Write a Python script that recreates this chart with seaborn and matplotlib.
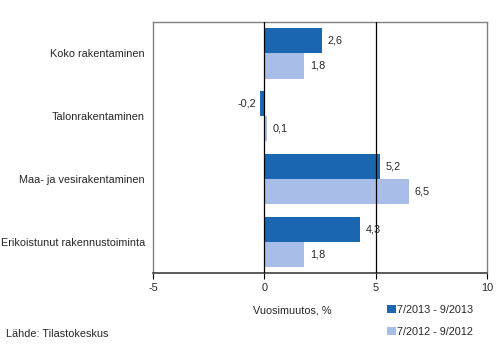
import pandas as pd
import numpy as np
import matplotlib.pyplot as plt
import seaborn as sns

categories = ['Koko rakentaminen', 'Talonrakentaminen', 'Maa- ja vesirakentaminen', 'Erikoistunut rakennustoiminta']
series = ['7/2013 - 9/2013', '7/2012 - 9/2012']
vals_2013 = [2.6, -0.2, 5.2, 4.3]
vals_2012 = [1.8, 0.1, 6.5, 1.8]
colors = ['#1b66b0', '#a8bee9']

df = pd.DataFrame({
    'cat': categories * 2,
    'period': [series[0]] * 4 + [series[1]] * 4,
    'val': vals_2013 + vals_2012,
})

sns.set_style('white')
plt.rcParams['font.family'] = ['Liberation Sans', 'DejaVu Sans']
fs = 7.8

fig = plt.figure(figsize=(5.02, 3.56), dpi=100)
ax = fig.add_axes([0.305, 0.233, 0.665, 0.705])

sns.barplot(data=df, y='cat', x='val', hue='period', order=categories, hue_order=series,
            palette=colors, orient='h', width=0.8, saturation=1, linewidth=0, ax=ax, legend=True)

ax.set_xlim(-5, 10)
ax.set_xticks([-5, 0, 5, 10])
ax.set_xticklabels(['-5', '0', '5', '10'], fontsize=fs)
ax.tick_params(axis='x', direction='out', length=4, width=0.8, color='black', pad=3, bottom=True)
ax.tick_params(axis='y', length=0, labelsize=fs, pad=6)
ax.set_ylabel('')
ax.set_xlabel('')
for x in [0, 5]:
    ax.axvline(x, color='black', lw=0.9, zorder=3)

for side in ['left', 'top', 'right']:
    ax.spines[side].set_color('#808080')
    ax.spines[side].set_linewidth(1)
ax.spines['bottom'].set_color('#404040')
ax.spines['bottom'].set_linewidth(1.2)

# value labels
for cont in ax.containers:
    for bar in cont:
        v = bar.get_width()
        yc = bar.get_y() + bar.get_height() / 2
        txt = ('%.1f' % v).replace('.', ',')
        if v >= 0:
            ax.text(v + 0.25, yc, txt, ha='left', va='center', fontsize=fs, zorder=4)
        else:
            ax.text(v - 0.15, yc, txt, ha='right', va='center', fontsize=fs, zorder=4)

fig.text(0.582, 0.128, 'Vuosimuutos, %', ha='center', va='center', fontsize=fs)
fig.text(0.012, 0.063, 'Lähde: Tilastokeskus', ha='left', va='center', fontsize=fs)

leg = ax.legend(loc='upper left', bbox_to_anchor=(0.761, 0.158), bbox_transform=fig.transFigure,
                frameon=False, fontsize=fs, handlelength=0.75, handleheight=0.75,
                handletextpad=0.1, labelspacing=1.1, borderpad=0)

fig.savefig('out.png', dpi=100)
